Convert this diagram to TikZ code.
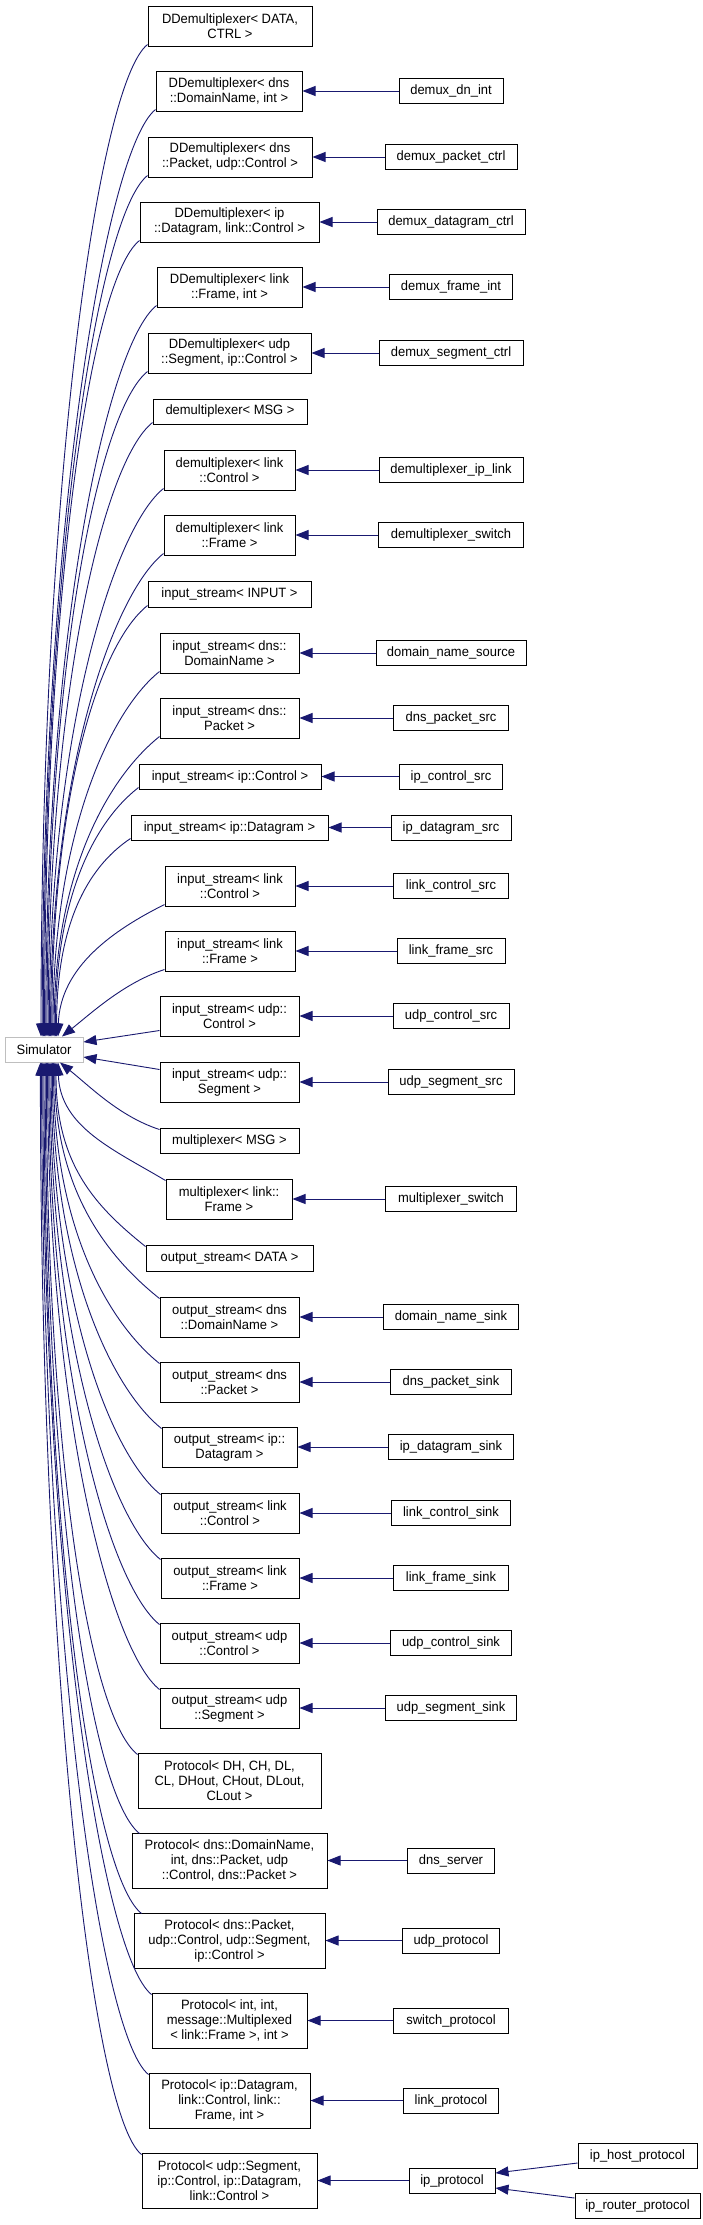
\documentclass[tikz,border=0pt]{standalone}
\usepackage{fontspec}
\setmainfont{Liberation Sans}[FakeStretch=0.96]
\usetikzlibrary{arrows.meta}
\definecolor{edgeblue}{HTML}{191970}
\definecolor{simgray}{HTML}{BFBFBF}
\tikzset{
 cls/.style={draw=black, fill=white, line width=1pt, inner sep=0pt, align=center, font=\fontsize{13.5}{15}\selectfont},
 root/.style={cls, draw=simgray},
 inh/.style={draw=edgeblue, line width=0.9pt, arrows={Triangle[length=13pt,width=10pt,fill=edgeblue]-}},
}
\begin{document}
\begin{tikzpicture}[x=1pt,y=-1pt]
\fill[white] (0,0) rectangle (703,2225);
% root
\node[root,minimum width=78pt,minimum height=25pt] (sim) at (44,1049.5) {Simulator};
% middle column
\node[cls,minimum width=164pt,minimum height=40pt] (n1) at (230,26) {DDemultiplexer< DATA,\\CTRL >};
\node[cls,minimum width=146pt,minimum height=40pt] (n2) at (229,91) {DDemultiplexer< dns\\::DomainName, int >};
\node[cls,minimum width=164pt,minimum height=40pt] (n3) at (230,157) {DDemultiplexer< dns\\::Packet, udp::Control >};
\node[cls,minimum width=179pt,minimum height=40pt] (n4) at (229.5,222) {DDemultiplexer< ip\\::Datagram, link::Control >};
\node[cls,minimum width=145pt,minimum height=40pt] (n5) at (229.5,287) {DDemultiplexer< link\\::Frame, int >};
\node[cls,minimum width=163pt,minimum height=40pt] (n6) at (229.5,353) {DDemultiplexer< udp\\::Segment, ip::Control >};
\node[cls,minimum width=154pt,minimum height=25pt] (n7) at (230,411.5) {demultiplexer< MSG >};
\node[cls,minimum width=131pt,minimum height=40pt] (n8) at (229.5,470) {demultiplexer< link\\::Control >};
\node[cls,minimum width=131pt,minimum height=40pt] (n9) at (229.5,535) {demultiplexer< link\\::Frame >};
\node[cls,minimum width=163pt,minimum height=26pt] (n10) at (229.5,594) {input\_stream< INPUT >};
\node[cls,minimum width=139pt,minimum height=40pt] (n11) at (229.5,653) {input\_stream< dns::\\DomainName >};
\node[cls,minimum width=139pt,minimum height=40pt] (n12) at (229.5,718) {input\_stream< dns::\\Packet >};
\node[cls,minimum width=182pt,minimum height=25pt] (n13) at (230,776.5) {input\_stream< ip::Control >};
\node[cls,minimum width=197pt,minimum height=25pt] (n14) at (229.5,827.5) {input\_stream< ip::Datagram >};
\node[cls,minimum width=130pt,minimum height=40pt] (n15) at (230,886) {input\_stream< link\\::Control >};
\node[cls,minimum width=130pt,minimum height=40pt] (n16) at (230,951) {input\_stream< link\\::Frame >};
\node[cls,minimum width=139pt,minimum height=40pt] (n17) at (229.5,1016) {input\_stream< udp::\\Control >};
\node[cls,minimum width=139pt,minimum height=40pt] (n18) at (229.5,1082) {input\_stream< udp::\\Segment >};
\node[cls,minimum width=139pt,minimum height=25pt] (n19) at (229.5,1140.5) {multiplexer< MSG >};
\node[cls,minimum width=126pt,minimum height=40pt] (n20) at (229,1199) {multiplexer< link::\\Frame >};
\node[cls,minimum width=167pt,minimum height=26pt] (n21) at (229.5,1258) {output\_stream< DATA >};
\node[cls,minimum width=139pt,minimum height=40pt] (n22) at (229.5,1317) {output\_stream< dns\\::DomainName >};
\node[cls,minimum width=139pt,minimum height=40pt] (n23) at (229.5,1382) {output\_stream< dns\\::Packet >};
\node[cls,minimum width=135pt,minimum height=40pt] (n24) at (229.5,1447) {output\_stream< ip::\\Datagram >};
\node[cls,minimum width=138pt,minimum height=40pt] (n25) at (230,1513) {output\_stream< link\\::Control >};
\node[cls,minimum width=138pt,minimum height=40pt] (n26) at (230,1578) {output\_stream< link\\::Frame >};
\node[cls,minimum width=139pt,minimum height=40pt] (n27) at (229.5,1643) {output\_stream< udp\\::Control >};
\node[cls,minimum width=139pt,minimum height=40pt] (n28) at (229.5,1708) {output\_stream< udp\\::Segment >};
\node[cls,minimum width=183pt,minimum height=55pt] (n29) at (229.5,1780.5) {Protocol< DH, CH, DL,\\CL, DHout, CHout, DLout,\\CLout >};
\node[cls,minimum width=195pt,minimum height=55pt] (n30) at (229.5,1860.5) {Protocol< dns::DomainName,\\int, dns::Packet, udp\\::Control, dns::Packet >};
\node[cls,minimum width=191pt,minimum height=55pt] (n31) at (229.5,1940.5) {Protocol< dns::Packet,\\udp::Control, udp::Segment,\\ip::Control >};
\node[cls,minimum width=155pt,minimum height=55pt] (n32) at (229.5,2020.5) {Protocol< int, int,\\message::Multiplexed\\< link::Frame >, int >};
\node[cls,minimum width=161pt,minimum height=55pt] (n33) at (229.5,2100.5) {Protocol< ip::Datagram,\\link::Control, link::\\Frame, int >};
\node[cls,minimum width=175pt,minimum height=55pt] (n34) at (229.5,2180.5) {Protocol< udp::Segment,\\ip::Control, ip::Datagram,\\link::Control >};
% right column
\node[cls,minimum width=104pt,minimum height=25pt] (r2) at (451,91) {demux\_dn\_int};
\node[cls,minimum width=132pt,minimum height=25pt] (r3) at (451,157) {demux\_packet\_ctrl};
\node[cls,minimum width=148pt,minimum height=25pt] (r4) at (451,222) {demux\_datagram\_ctrl};
\node[cls,minimum width=123pt,minimum height=25pt] (r5) at (451,287) {demux\_frame\_int};
\node[cls,minimum width=144pt,minimum height=25pt] (r6) at (451,353) {demux\_segment\_ctrl};
\node[cls,minimum width=144pt,minimum height=25pt] (r8) at (451,470) {demultiplexer\_ip\_link};
\node[cls,minimum width=145pt,minimum height=25pt] (r9) at (451,535) {demultiplexer\_switch};
\node[cls,minimum width=150pt,minimum height=25pt] (r11) at (451,653) {domain\_name\_source};
\node[cls,minimum width=115pt,minimum height=25pt] (r12) at (451,718) {dns\_packet\_src};
\node[cls,minimum width=103pt,minimum height=25pt] (r13) at (451,776.5) {ip\_control\_src};
\node[cls,minimum width=120pt,minimum height=25pt] (r14) at (451,827.5) {ip\_datagram\_src};
\node[cls,minimum width=115pt,minimum height=25pt] (r15) at (451,886) {link\_control\_src};
\node[cls,minimum width=108pt,minimum height=25pt] (r16) at (451,951) {link\_frame\_src};
\node[cls,minimum width=116pt,minimum height=25pt] (r17) at (451,1016) {udp\_control\_src};
\node[cls,minimum width=126pt,minimum height=25pt] (r18) at (451,1082) {udp\_segment\_src};
\node[cls,minimum width=131pt,minimum height=25pt] (r20) at (451,1199) {multiplexer\_switch};
\node[cls,minimum width=135pt,minimum height=25pt] (r22) at (451,1317) {domain\_name\_sink};
\node[cls,minimum width=121pt,minimum height=25pt] (r23) at (451,1382) {dns\_packet\_sink};
\node[cls,minimum width=125pt,minimum height=25pt] (r24) at (451,1447) {ip\_datagram\_sink};
\node[cls,minimum width=119pt,minimum height=25pt] (r25) at (451,1513) {link\_control\_sink};
\node[cls,minimum width=115pt,minimum height=25pt] (r26) at (451,1578) {link\_frame\_sink};
\node[cls,minimum width=121pt,minimum height=25pt] (r27) at (451,1643) {udp\_control\_sink};
\node[cls,minimum width=131pt,minimum height=25pt] (r28) at (451,1708) {udp\_segment\_sink};
\node[cls,minimum width=87pt,minimum height=25pt] (r30) at (451,1860.5) {dns\_server};
\node[cls,minimum width=97pt,minimum height=25pt] (r31) at (451,1940.5) {udp\_protocol};
\node[cls,minimum width=115pt,minimum height=25pt] (r32) at (451,2020.5) {switch\_protocol};
\node[cls,minimum width=95pt,minimum height=25pt] (r33) at (451,2100.5) {link\_protocol};
\node[cls,minimum width=86pt,minimum height=25pt] (r34) at (452,2180.5) {ip\_protocol};
\node[cls,minimum width=119pt,minimum height=25pt] (hp) at (637.5,2155.5) {ip\_host\_protocol};
\node[cls,minimum width=125pt,minimum height=25pt] (rp) at (637.5,2205.5) {ip\_router\_protocol};
% edges to Simulator (upper)
\draw[inh] ([xshift=-3pt]sim.north) .. controls +(0,-546) and +(-50,40) .. ([yshift=2pt]n1.south west);
\draw[inh] ([xshift=-1.8pt]sim.north) .. controls +(0,-510) and +(-50,40) .. ([yshift=2pt]n2.south west);
\draw[inh] ([xshift=-0.6pt]sim.north) .. controls +(0,-474) and +(-50,40) .. ([yshift=2pt]n3.south west);
\draw[inh] ([xshift=0.6pt]sim.north) .. controls +(0,-438) and +(-50,40) .. ([yshift=2pt]n4.south west);
\draw[inh] ([xshift=1.8pt]sim.north) .. controls +(0,-402) and +(-50,40) .. ([yshift=2pt]n5.south west);
\draw[inh] ([xshift=3pt]sim.north) .. controls +(0,-366) and +(-50,40) .. ([yshift=2pt]n6.south west);
\draw[inh] ([xshift=4.2pt]sim.north) .. controls +(0,-338) and +(-50,40) .. ([yshift=2pt]n7.south west);
\draw[inh] ([xshift=5.4pt]sim.north) .. controls +(0,-302) and +(-50,40) .. ([yshift=2pt]n8.south west);
\draw[inh] ([xshift=6.6pt]sim.north) .. controls +(0,-266) and +(-50,40) .. ([yshift=2pt]n9.south west);
\draw[inh] ([xshift=7.8pt]sim.north) .. controls +(0,-238) and +(-50,40) .. ([yshift=2pt]n10.south west);
\draw[inh] ([xshift=9pt]sim.north) .. controls +(0,-201) and +(-50,40) .. ([yshift=2pt]n11.south west);
\draw[inh] ([xshift=10.2pt]sim.north) .. controls +(0,-166) and +(-50,40) .. ([yshift=2pt]n12.south west);
\draw[inh] ([xshift=11.4pt]sim.north) .. controls +(0,-138) and +(-45,35) .. ([yshift=2pt]n13.south west);
\draw[inh] ([xshift=12.6pt]sim.north) .. controls +(0,-109) and +(-45,30) .. ([yshift=2pt]n14.south west);
\draw[inh] ([xshift=14pt]sim.north) .. controls +(2,-70) and +(-50,25) .. ([yshift=2pt]n15.south west);
\draw[inh] ([xshift=18pt]sim.north) .. controls +(30,-24) and +(-40,13) .. ([yshift=2pt]n16.south west);
% straight edges
\draw[inh] ([yshift=7.5pt]sim.east) -- ([yshift=6pt]n17.south west);
\draw[inh] ([yshift=-7.5pt]sim.east) -- ([yshift=-8pt]n18.north west);
% edges to Simulator (lower)
\draw[inh] ([xshift=16pt]sim.south) .. controls +(30,24) and +(-40,-13) .. ([yshift=-2pt]n19.north west);
\draw[inh] ([xshift=14pt]sim.south) .. controls +(2,65) and +(-50,-30) .. ([yshift=-2pt]n20.north west);
\draw[inh] ([xshift=12pt]sim.south) .. controls +(0,102) and +(-50,-40) .. ([yshift=-2pt]n21.north west);
\draw[inh] ([xshift=10.8pt]sim.south) .. controls +(0,130) and +(-50,-40) .. ([yshift=-2pt]n22.north west);
\draw[inh] ([xshift=9.6pt]sim.south) .. controls +(0,166) and +(-50,-40) .. ([yshift=-2pt]n23.north west);
\draw[inh] ([xshift=8.4pt]sim.south) .. controls +(0,202) and +(-50,-40) .. ([yshift=-2pt]n24.north west);
\draw[inh] ([xshift=7.2pt]sim.south) .. controls +(0,238) and +(-50,-40) .. ([yshift=-2pt]n25.north west);
\draw[inh] ([xshift=6pt]sim.south) .. controls +(0,274) and +(-50,-40) .. ([yshift=-2pt]n26.north west);
\draw[inh] ([xshift=4.8pt]sim.south) .. controls +(0,310) and +(-50,-40) .. ([yshift=-2pt]n27.north west);
\draw[inh] ([xshift=3.6pt]sim.south) .. controls +(0,345) and +(-50,-40) .. ([yshift=-2pt]n28.north west);
\draw[inh] ([xshift=2.4pt]sim.south) .. controls +(0,381) and +(-50,-40) .. ([yshift=-2pt]n29.north west);
\draw[inh] ([xshift=1.2pt]sim.south) .. controls +(0,425) and +(-50,-40) .. ([xshift=8pt,yshift=-1pt]n30.north west);
\draw[inh] ([xshift=0pt]sim.south) .. controls +(0,469) and +(-50,-40) .. ([xshift=8pt,yshift=-1pt]n31.north west);
\draw[inh] ([xshift=-1.2pt]sim.south) .. controls +(0,513) and +(-50,-40) .. ([yshift=-2pt]n32.north west);
\draw[inh] ([xshift=-2.4pt]sim.south) .. controls +(0,557) and +(-50,-40) .. ([yshift=-2pt]n33.north west);
\draw[inh] ([xshift=-3.6pt]sim.south) .. controls +(0,601) and +(-50,-40) .. ([yshift=-2pt]n34.north west);
% horizontal edges
\draw[inh] (n2.east) -- (r2.west);
\draw[inh] (n3.east) -- (r3.west);
\draw[inh] (n4.east) -- (r4.west);
\draw[inh] (n5.east) -- (r5.west);
\draw[inh] (n6.east) -- (r6.west);
\draw[inh] (n8.east) -- (r8.west);
\draw[inh] (n9.east) -- (r9.west);
\draw[inh] (n11.east) -- (r11.west);
\draw[inh] (n12.east) -- (r12.west);
\draw[inh] (n13.east) -- (r13.west);
\draw[inh] (n14.east) -- (r14.west);
\draw[inh] (n15.east) -- (r15.west);
\draw[inh] (n16.east) -- (r16.west);
\draw[inh] (n17.east) -- (r17.west);
\draw[inh] (n18.east) -- (r18.west);
\draw[inh] (n20.east) -- (r20.west);
\draw[inh] (n22.east) -- (r22.west);
\draw[inh] (n23.east) -- (r23.west);
\draw[inh] (n24.east) -- (r24.west);
\draw[inh] (n25.east) -- (r25.west);
\draw[inh] (n26.east) -- (r26.west);
\draw[inh] (n27.east) -- (r27.west);
\draw[inh] (n28.east) -- (r28.west);
\draw[inh] (n30.east) -- (r30.west);
\draw[inh] (n31.east) -- (r31.west);
\draw[inh] (n32.east) -- (r32.west);
\draw[inh] (n33.east) -- (r33.west);
\draw[inh] (n34.east) -- (r34.west);
\draw[inh] ([yshift=7.5pt]r34.east) -- ([yshift=-7.5pt]hp.west);
\draw[inh] ([yshift=-7.5pt]r34.east) -- ([yshift=7.5pt]rp.west);
\end{tikzpicture}
\end{document}
